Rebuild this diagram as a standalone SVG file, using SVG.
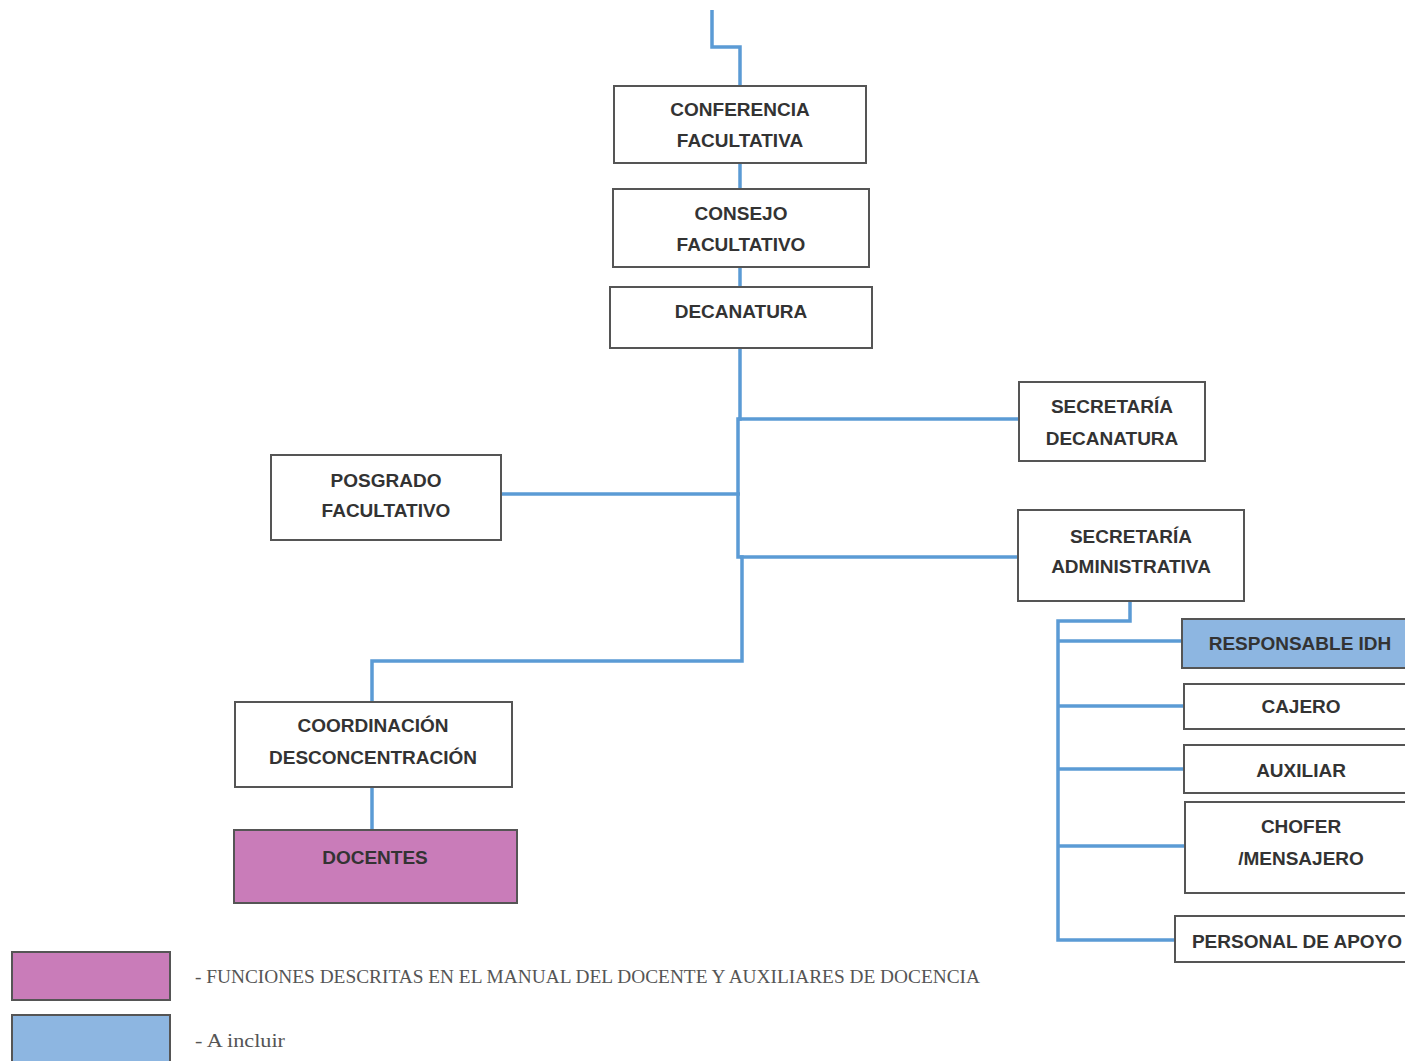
<svg xmlns="http://www.w3.org/2000/svg" width="1405" height="1061" viewBox="0 0 1405 1061">
<style>
.box{fill:#fff;stroke:#555;stroke-width:2}
.blue{fill:#8DB6E1}
.pink{fill:#C97CB9}
.t{font-family:"Liberation Sans",Arial,sans-serif;font-weight:bold;font-size:19px;fill:#333;text-anchor:middle}
.c{fill:none;stroke:#5B9BD5;stroke-width:3.5}
.lg{font-family:"Liberation Serif","Times New Roman",serif;font-size:19px;fill:#555}
</style>
<rect width="1405" height="1061" fill="#fff"/>
<g id="connectors">
<path class="c" d="M712 10 V47 H740 V86"/>
<path class="c" d="M740 163 V189"/>
<path class="c" d="M740 267 V287"/>
<path class="c" d="M740 348 V419 H738 V557 H742 V661 H372 V702"/>
<path class="c" d="M738 419 H1019"/>
<path class="c" d="M502 494 H740"/>
<path class="c" d="M740 557 H1018"/>
<path class="c" d="M372 787 V830"/>
<path class="c" d="M1130 601 V621 H1058 V940 H1175"/>
<path class="c" d="M1058 641 H1182"/>
<path class="c" d="M1058 706 H1184"/>
<path class="c" d="M1058 769 H1184"/>
<path class="c" d="M1058 846 H1185"/>
</g>
<g id="conferencia"><rect class="box" x="614" y="86" width="252" height="77"/><text class="t" x="740" y="116">CONFERENCIA</text><text class="t" x="740" y="147">FACULTATIVA</text></g>
<g id="consejo"><rect class="box" x="613" y="189" width="256" height="78"/><text class="t" x="741" y="220">CONSEJO</text><text class="t" x="741" y="251">FACULTATIVO</text></g>
<g id="decanatura"><rect class="box" x="610" y="287" width="262" height="61"/><text class="t" x="741" y="318">DECANATURA</text></g>
<g id="secretaria-decanatura"><rect class="box" x="1019" y="382" width="186" height="79"/><text class="t" x="1112" y="413">SECRETARÍA</text><text class="t" x="1112" y="445">DECANATURA</text></g>
<g id="posgrado"><rect class="box" x="271" y="455" width="230" height="85"/><text class="t" x="386" y="487">POSGRADO</text><text class="t" x="386" y="517">FACULTATIVO</text></g>
<g id="secretaria-administrativa"><rect class="box" x="1018" y="510" width="226" height="91"/><text class="t" x="1131" y="543">SECRETARÍA</text><text class="t" x="1131" y="573">ADMINISTRATIVA</text></g>
<g id="responsable-idh"><rect class="box blue" x="1182" y="619" width="230" height="49"/><text class="t" x="1300" y="650">RESPONSABLE IDH</text></g>
<g id="cajero"><rect class="box" x="1184" y="684" width="228" height="45"/><text class="t" x="1301" y="713">CAJERO</text></g>
<g id="auxiliar"><rect class="box" x="1184" y="745" width="228" height="48"/><text class="t" x="1301" y="777">AUXILIAR</text></g>
<g id="chofer"><rect class="box" x="1185" y="802" width="227" height="91"/><text class="t" x="1301" y="833">CHOFER</text><text class="t" x="1301" y="865">/MENSAJERO</text></g>
<g id="personal-apoyo"><rect class="box" x="1175" y="916" width="237" height="46"/><text class="t" x="1297" y="948">PERSONAL DE APOYO</text></g>
<g id="coordinacion"><rect class="box" x="235" y="702" width="277" height="85"/><text class="t" x="373" y="732">COORDINACIÓN</text><text class="t" x="373" y="764">DESCONCENTRACIÓN</text></g>
<g id="docentes"><rect class="box pink" x="234" y="830" width="283" height="73"/><text class="t" x="375" y="864">DOCENTES</text></g>
<g id="legend">
<rect class="box pink" x="12" y="952" width="158" height="48"/>
<rect class="box blue" x="12" y="1015" width="158" height="50"/>
<text class="lg" x="195" y="983" textLength="785" lengthAdjust="spacingAndGlyphs">- FUNCIONES DESCRITAS EN EL MANUAL DEL DOCENTE Y AUXILIARES DE DOCENCIA</text>
<text class="lg" x="195" y="1047" textLength="90" lengthAdjust="spacingAndGlyphs">- A incluir</text>
</g>
</svg>
